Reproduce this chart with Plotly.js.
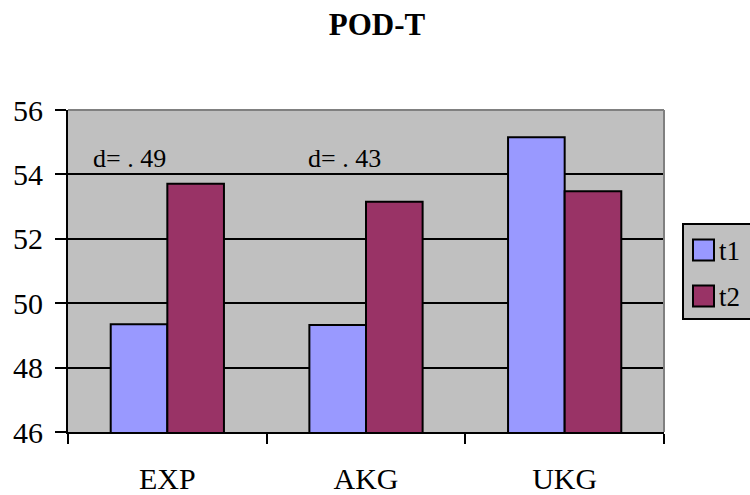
<!DOCTYPE html>
<html>
<head>
<meta charset="utf-8">
<script src="https://cdn.plot.ly/plotly-3.0.1.min.js"></script>
<style>
  html, body { margin: 0; padding: 0; background: #ffffff; }
  #chart { width: 750px; height: 495px; }
</style>
</head>
<body>
<div id="chart"></div>
<script>
// POD-T mean scores by group at two time points
const groups = ['EXP', 'AKG', 'UKG'];
const t1Values = [49.35, 49.32, 55.15];
const t2Values = [53.71, 53.15, 53.48];
const seriesNames = ['t1', 't2'];
const effectLabels = ['d= . 49', 'd= . 43'];
const yTicks = [46, 48, 50, 52, 54, 56];

const serif = '"Liberation Serif", "Times New Roman", Times, serif';
const colorT1 = '#9999FF';
const colorT2 = '#993366';

// plot area in pixels
const W = 750, H = 495;
const L = 68, R = 86, T = 110, B = 63;
const pw = W - L - R, ph = H - T - B;
const px = v => (v - L) / pw;          // pixel x -> paper x
const py = v => (H - B - v) / ph;      // pixel y -> paper y

const traces = [
  {
    type: 'bar', name: seriesNames[0], x: groups, y: t1Values,
    marker: { color: colorT1, line: { color: '#000', width: 2 } },
    hoverinfo: 'x+y+name'
  },
  {
    type: 'bar', name: seriesNames[1], x: groups, y: t2Values,
    marker: { color: colorT2, line: { color: '#000', width: 2 } },
    hoverinfo: 'x+y+name'
  }
];

// hand-built legend block on the right edge
const legendBox = { x0: 683, x1: 762, y0: 224, y1: 319 };
const legendRows = [
  { name: seriesNames[0], color: colorT1, cy: 250 },
  { name: seriesNames[1], color: colorT2, cy: 296 }
];
const sq = 21;

const shapes = [
  // gray frame on top and right of the plot area
  { type: 'line', xref: 'paper', yref: 'paper', x0: 0, x1: 1, y0: 1, y1: 1,
    line: { color: '#808080', width: 2 }, layer: 'above' },
  { type: 'line', xref: 'paper', yref: 'paper', x0: 1, x1: 1, y0: 0, y1: 1,
    line: { color: '#808080', width: 2 }, layer: 'above' },
  // legend frame
  { type: 'rect', xref: 'paper', yref: 'paper',
    x0: px(legendBox.x0), x1: px(legendBox.x1), y0: py(legendBox.y1), y1: py(legendBox.y0),
    fillcolor: '#C0C0C0', line: { color: '#000', width: 2 }, layer: 'above' }
];
legendRows.forEach(r => {
  shapes.push({
    type: 'rect', xref: 'paper', yref: 'paper',
    x0: px(693), x1: px(693 + sq), y0: py(r.cy + sq / 2), y1: py(r.cy - sq / 2),
    fillcolor: r.color, line: { color: '#000', width: 2 }, layer: 'above'
  });
});

const annotations = [
  { text: effectLabels[0], xref: 'paper', yref: 'paper', x: px(91), y: py(158),
    xanchor: 'left', yanchor: 'middle', showarrow: false,
    font: { family: serif, size: 26, color: '#000' } },
  { text: effectLabels[1], xref: 'paper', yref: 'paper', x: px(306), y: py(158),
    xanchor: 'left', yanchor: 'middle', showarrow: false,
    font: { family: serif, size: 26, color: '#000' } }
];
legendRows.forEach(r => {
  annotations.push({
    text: r.name, xref: 'paper', yref: 'paper', x: px(717), y: py(r.cy + 1),
    xanchor: 'left', yanchor: 'middle', showarrow: false,
    font: { family: serif, size: 27, color: '#000' }
  });
});

const layout = {
  width: W, height: H,
  margin: { l: L, r: R, t: T, b: B, autoexpand: false },
  paper_bgcolor: '#ffffff',
  plot_bgcolor: '#C0C0C0',
  showlegend: false,
  barmode: 'group',
  bargap: 0.43,
  bargroupgap: 0,
  font: { family: serif, color: '#000' },
  title: {
    text: '<b>POD-T</b>',
    font: { family: serif, size: 31, color: '#000' },
    xref: 'container', yref: 'container',
    x: 377 / W, y: 1 - 24 / H, xanchor: 'center', yanchor: 'middle'
  },
  xaxis: {
    type: 'category',
    showgrid: false,
    showline: true, linecolor: '#000', linewidth: 2,
    ticks: 'outside', tickson: 'boundaries', ticklen: 10, tickwidth: 2, tickcolor: '#000',
    tickfont: { family: serif, size: 30, color: '#000' },
    ticklabelstandoff: 19,
    fixedrange: true
  },
  yaxis: {
    range: [46, 56],
    tickvals: yTicks,
    showgrid: true, gridcolor: '#000', gridwidth: 2,
    zeroline: false,
    showline: true, linecolor: '#000', linewidth: 2,
    ticks: 'outside', ticklen: 11, tickwidth: 2, tickcolor: '#000',
    tickfont: { family: serif, size: 30, color: '#000' },
    ticklabelstandoff: 6,
    fixedrange: true
  },
  shapes: shapes,
  annotations: annotations
};

Plotly.newPlot('chart', traces, layout, { displayModeBar: false, staticPlot: true });
</script>
</body>
</html>
